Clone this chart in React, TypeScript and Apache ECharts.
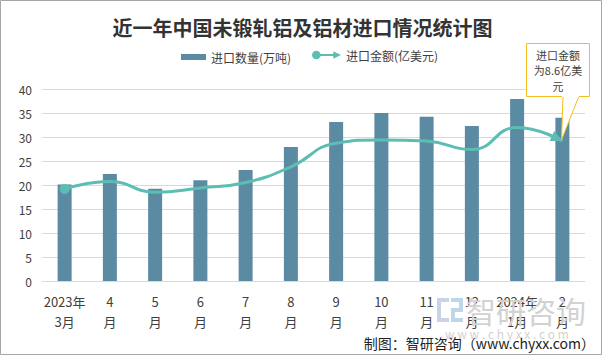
import React, { useEffect, useRef } from "react";
import * as echarts from "echarts";

const categories = [
  "2023年\n3月", "4\n月", "5\n月", "6\n月", "7\n月", "8\n月",
  "9\n月", "10\n月", "11\n月", "12\n月", "2024年\n1月", "2\n月",
];
const importVolume = [20.1, 22.3, 19.2, 21.0, 23.1, 27.9, 33.1, 35.0, 34.2, 32.3, 37.9, 34.0];
const importValue = [5.66, 6.11, 5.46, 5.72, 6.05, 7.02, 8.47, 8.67, 8.6, 8.08, 9.44, 8.6];
const yTicks = { min: 0, max: 40, interval: 5 };
const valueAxisMax = 11.8;

const BAR = "#5b8ba3";
const LINE = "#5cbeb2";
const FONT = "'Noto Sans CJK SC', 'Noto Sans', sans-serif";

export default function App() {
  const ref = useRef<HTMLDivElement>(null);
  useEffect(() => {
    if (!ref.current) return;
    const chart = echarts.init(ref.current, null, { renderer: "svg" });
    const n = importValue.length;
    const lineData = importValue.map((v, i) => {
      if (i === 0) return { value: v, symbol: "circle", symbolSize: 10 };
      if (i === n - 1)
        return {
          value: v,
          symbol: "path://M0,0L10,5L0,10Z",
          symbolSize: [12, 11],
          symbolRotate: -25,
          symbolOffset: [-5, -2.5],
        };
      return { value: v, symbol: "none", symbolSize: 0 };
    });
    chart.setOption({
      animation: false,
      backgroundColor: "#fff",
      textStyle: { fontFamily: FONT },
      title: {
        text: "近一年中国未锻轧铝及铝材进口情况统计图",
        left: "center",
        top: 12,
        textStyle: { fontFamily: FONT, fontSize: 20, fontWeight: "bold", color: "#333" },
      },
      legend: [
        {
          data: [{ name: "进口数量(万吨)", icon: "rect" }],
          left: 176,
          top: 46,
          itemWidth: 25,
          itemHeight: 6,
          itemGap: 4,
          textStyle: { fontSize: 12, color: "#404040", fontFamily: FONT },
        },
        {
          data: [
            {
              name: "进口金额(亿美元)",
              icon: "path://M0,5A4.5,4.5,0,1,1,9,5A4.5,4.5,0,1,1,0,5Z M8,4L23,4L23,6L8,6Z M22,1L30,5L22,9Z",
            },
          ],
          left: 307,
          top: 44,
          itemWidth: 29,
          itemHeight: 10,
          textStyle: { fontSize: 12, color: "#404040", fontFamily: FONT },
        },
      ],
      grid: { left: 42, right: 20, top: 89, bottom: 75 },
      xAxis: {
        type: "category",
        data: categories,
        axisLine: { lineStyle: { color: "#d9d9d9" } },
        axisTick: { show: false },
        axisLabel: { color: "#404040", fontSize: 13, lineHeight: 20, margin: 10, interval: 0, fontFamily: FONT },
      },
      yAxis: [
        {
          type: "value",
          min: yTicks.min,
          max: yTicks.max,
          interval: yTicks.interval,
          axisLabel: { color: "#404040", fontSize: 12, margin: 10, fontFamily: FONT },
          splitLine: { lineStyle: { color: "#d9d9d9" } },
          axisLine: { show: false },
          axisTick: { show: false },
        },
        {
          type: "value",
          min: 0,
          max: valueAxisMax,
          show: false,
          splitLine: { show: false },
        },
      ],
      series: [
        {
          name: "进口数量(万吨)",
          type: "bar",
          data: importVolume,
          barWidth: 14,
          itemStyle: { color: BAR },
        },
        {
          name: "进口金额(亿美元)",
          type: "line",
          yAxisIndex: 1,
          data: lineData,
          smooth: 0.5,
          showAllSymbol: true,
          lineStyle: { color: LINE, width: 3 },
          itemStyle: { color: LINE },
        },
      ],
      graphic: [
        {
          type: "rect",
          shape: { x: 0.5, y: 0.5, width: 601, height: 354 },
          style: { fill: "none", stroke: "#a6a6a6", lineWidth: 1 },
          silent: true,
          z: 0,
        },
        {
          type: "polygon",
          shape: { points: [[563, 96], [561.5, 140], [579, 96]] },
          style: { fill: "#fff", stroke: "#f5be1e", lineWidth: 1 },
          z: 10,
        },
        {
          type: "rect",
          shape: { x: 526.5, y: 43.5, width: 63, height: 53 },
          style: { fill: "#fff", stroke: "#f5be1e", lineWidth: 1 },
          z: 11,
        },
        {
          type: "rect",
          shape: { x: 562, y: 94, width: 17, height: 3 },
          style: { fill: "#fff" },
          z: 12,
        },
        {
          type: "text",
          x: 558,
          y: 47,
          style: {
            text: "进口金额\n为8.6亿美\n元",
            fontSize: 11,
            lineHeight: 15.5,
            fill: "#404040",
            align: "center",
            verticalAlign: "top",
            fontFamily: FONT,
          },
          z: 13,
        },
        // watermark logo
        {
          type: "group",
          x: 437,
          y: 298,
          silent: true,
          z: 1,
          children: [
            { type: "rect", shape: { x: 0, y: 0, width: 12, height: 4 }, style: { fill: "#c9d3e3" } },
            { type: "rect", shape: { x: 0, y: 0, width: 4, height: 24 }, style: { fill: "#c9d3e3" } },
            { type: "rect", shape: { x: 0, y: 20, width: 12, height: 4 }, style: { fill: "#c9d3e3" } },
            { type: "rect", shape: { x: 14, y: 0, width: 12, height: 4 }, style: { fill: "#bcd6ec" } },
            { type: "rect", shape: { x: 22, y: 0, width: 4, height: 13 }, style: { fill: "#bcd6ec" } },
            { type: "rect", shape: { x: 14, y: 10, width: 12, height: 4 }, style: { fill: "#bcd6ec" } },
            { type: "rect", shape: { x: 14, y: 10, width: 4, height: 14 }, style: { fill: "#bcd6ec" } },
            { type: "rect", shape: { x: 14, y: 20, width: 12, height: 4 }, style: { fill: "#bcd6ec" } },
          ],
        },
        {
          type: "text",
          x: 466,
          y: 310,
          silent: true,
          z: 1,
          style: {
            text: "智研咨询",
            fontSize: 30,
            fill: "#d2d2d2",
            verticalAlign: "middle",
            fontFamily: FONT,
          },
        },
        {
          type: "text",
          x: 445,
          y: 333,
          silent: true,
          z: 1,
          style: {
            text: "w w w . c h y x x . c o m",
            fontSize: 12,
            fill: "#d2d2d2",
            verticalAlign: "middle",
            fontFamily: FONT,
          },
        },
        {
          type: "text",
          x: 595,
          y: 343,
          z: 5,
          style: {
            text: "制图：智研咨询（www.chyxx.com）",
            fontSize: 14,
            fill: "#222",
            align: "right",
            verticalAlign: "middle",
            fontFamily: FONT,
          },
        },
      ],
    });
    return () => chart.dispose();
  }, []);
  return (
    <div
      ref={ref}
      style={{ position: "fixed", left: 0, top: 0, width: 605, height: 356 }}
    />
  );
}
